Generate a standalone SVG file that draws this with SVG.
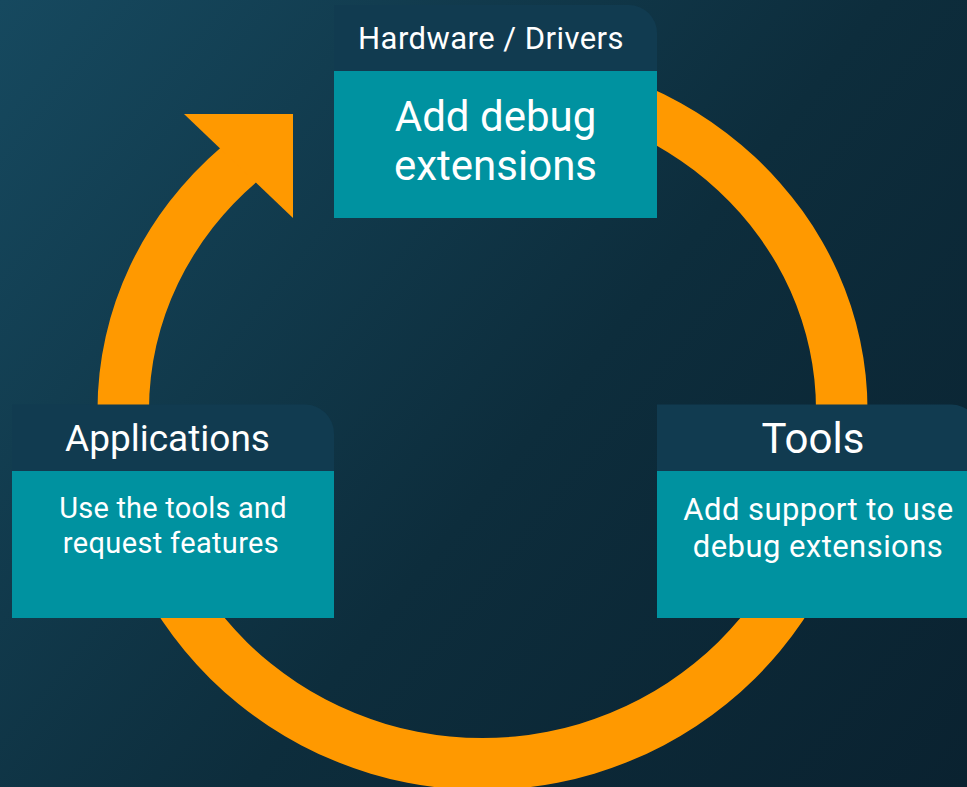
<svg xmlns="http://www.w3.org/2000/svg" width="967" height="787" viewBox="0 0 967 787">
  <defs>
    <linearGradient id="bg" gradientUnits="userSpaceOnUse" x1="0" y1="0" x2="967" y2="787">
      <stop offset="0" stop-color="#16495f"/>
      <stop offset="0.55" stop-color="#0d2d3c"/>
      <stop offset="1" stop-color="#0a2230"/>
    </linearGradient>
  </defs>
  <style>
    .ring { fill: #ff9900; }
    .head { fill: #113b50; }
    .body { fill: #0092a0; }
    text { font-family: Roboto, "Liberation Sans", sans-serif; fill: #ffffff; text-anchor: middle; }
    .small { letter-spacing: 0.45px; }
  </style>

  <rect x="0" y="0" width="967" height="787" fill="url(#bg)"/>

  <!-- cycle arrow: elliptical band plus arrowhead -->
  <g id="connectors">
    <path class="ring" d="M 222 146.4
      A 385 358 0 0 0 97.5 410
      A 385 380 0 0 0 482.5 790
      A 385 380 0 0 0 867.5 410
      A 385 358 0 0 0 482.5 52
      L 482.5 100
      A 333.5 310 0 0 1 816 410
      A 333.5 328 0 0 1 482.5 738
      A 333.5 328 0 0 1 149 410
      A 333.5 310 0 0 1 260 179.1 Z"/>
    <polygon class="ring" points="184,114 293,114 293,218"/>
  </g>

  <g id="hardware">
    <path class="head" d="M334 71 V5 H629 A28 28 0 0 1 657 33 V71 Z"/>
    <rect class="body" x="334" y="71" width="323" height="147"/>
    <text class="small" x="491" y="48.5" font-size="31">Hardware / Drivers</text>
    <text x="495.5" y="130.5" font-size="42">Add debug</text>
    <text x="495.5" y="180" font-size="42">extensions</text>
  </g>

  <g id="applications">
    <path class="head" d="M12 471 V404.5 H305 A29 29 0 0 1 334 433.5 V471 Z"/>
    <rect class="body" x="12" y="471" width="322" height="147"/>
    <text x="167.5" y="451" font-size="37">Applications</text>
    <text x="173" y="517.5" font-size="29" letter-spacing="0.2">Use the tools and</text>
    <text x="171" y="553" font-size="29" letter-spacing="0.35">request features</text>
  </g>

  <g id="tools">
    <path class="head" d="M657 471 V404.5 H951 A29 29 0 0 1 980 433.5 V471 Z"/>
    <rect class="body" x="657" y="471" width="323" height="147"/>
    <text x="813" y="452.5" font-size="42">Tools</text>
    <text class="small" x="818.5" y="520" font-size="31">Add support to use</text>
    <text class="small" x="818" y="556.5" font-size="31">debug extensions</text>
  </g>
</svg>
